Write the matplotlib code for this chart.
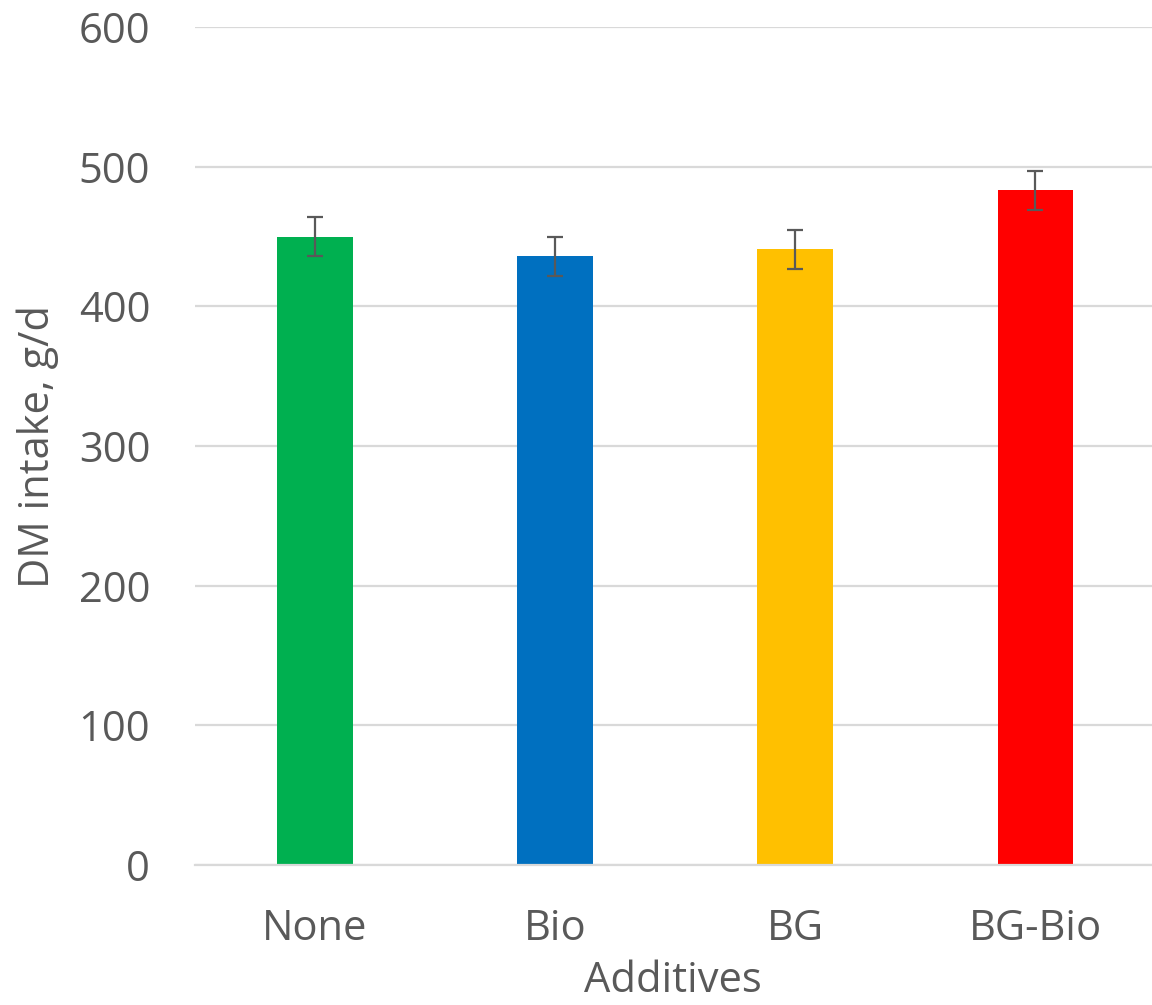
import matplotlib

matplotlib.use("Agg")
import matplotlib.pyplot as plt

additives = ["None", "Bio", "BG", "BG-Bio"]
dm_intake = [450, 436, 441, 483]
dm_err = [14, 14, 14, 14]
bar_colors = ["#00b050", "#0070c0", "#ffc000", "#ff0000"]
yticks = [0, 100, 200, 300, 400, 500, 600]

plt.rcParams["font.family"] = ["Open Sans", "DejaVu Sans"]
TEXT = "#595959"

fig = plt.figure(figsize=(11.52, 10.05), dpi=100)
ax = fig.add_axes([0.169, 0.1393, 0.831, 0.8338])

x = range(len(additives))
ax.bar(x, dm_intake, width=0.316, color=bar_colors, zorder=2)
ax.errorbar(x, dm_intake, yerr=dm_err, fmt="none", ecolor=TEXT,
            elinewidth=1.6, capsize=6, capthick=1.6, zorder=3)

ax.set_ylim(0, 600)
ax.set_xlim(-0.5, 3.485)
ax.set_yticks(yticks)
ax.set_xticks(list(x))
ax.set_xticklabels(additives)
ax.yaxis.grid(True, color="#d9d9d9", linewidth=1.6, zorder=0)
ax.set_axisbelow(True)
for side in ["top", "right", "left"]:
    ax.spines[side].set_visible(False)
ax.spines["bottom"].set_color("#d9d9d9")
ax.spines["bottom"].set_linewidth(1.6)
ax.tick_params(axis="both", length=0, labelsize=30, colors=TEXT)
ax.tick_params(axis="y", pad=32)
ax.tick_params(axis="x", pad=31)

# the original crops "Additives" at the bottom edge; keep it just inside
ax.set_ylabel("DM intake, g/d", fontsize=30, color=TEXT, labelpad=14)
ax.set_xlabel("Additives", fontsize=30, color=TEXT, labelpad=7)

fig.savefig("out.png", dpi=100)
